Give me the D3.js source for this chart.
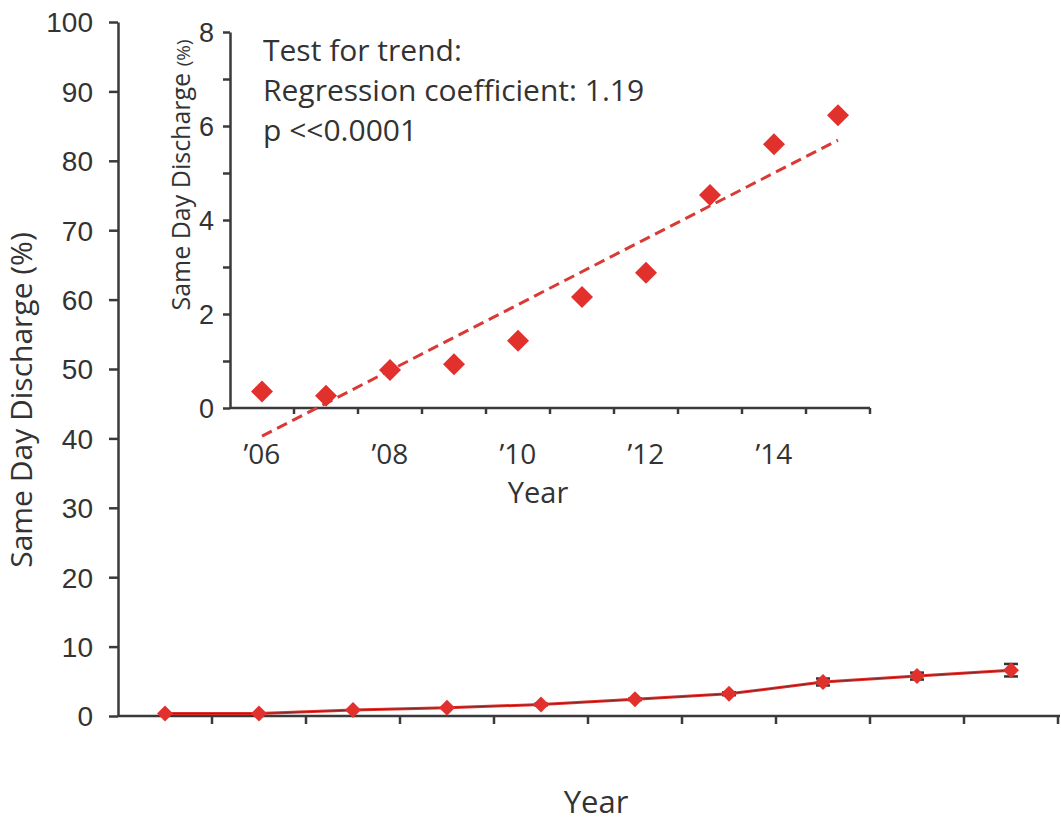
<!DOCTYPE html>
<html>
<head>
<meta charset="utf-8">
<script src="https://cdn.jsdelivr.net/npm/d3@7"></script>
<style>
  body { margin: 0; background: #fff; }
  svg { display: block; font-family: "Open Sans", "Noto Sans", sans-serif; }
  .axis path, .axis line { stroke: #3a3a3a; stroke-width: 2.5; }
  .axis text { fill: #333; }
</style>
</head>
<body>
<svg id="chart" width="1061" height="823"></svg>
<script>
// years shown on both panels
var years = [2006, 2007, 2008, 2009, 2010, 2011, 2012, 2013, 2014, 2015]

// main panel
var mainValues = [0.35, 0.35, 0.85, 1.2, 1.65, 2.4, 3.2, 4.9, 5.75, 6.6]
var mainErrors = [0, 0, 0, 0, 0.1, 0.1, 0.2, 0.5, 0.5, 0.9]
var mainYTicks = [0, 10, 20, 30, 40, 50, 60, 70, 80, 90, 100]

// inset panel
var insetValues = [0.35, 0.26, 0.81, 0.93, 1.43, 2.36, 2.88, 4.53, 5.61, 6.23]
var trendYears = [2006, 2015]
var trendValues = [-0.6, 5.7]
var insetYTicks = [0, 1, 2, 3, 4, 5, 6, 7, 8]
var insetXLabels = {2006: "\u201906", 2008: "\u201908", 2010: "\u201910", 2012: "\u201912", 2014: "\u201914"}
var trendText = ["Test for trend:", "Regression coefficient: 1.19", "p <<0.0001"]

var red = "#e2312c"
var svg = d3.select("#chart")

//<----------------------------- MAIN PANEL ----------------------------->
var x = d3.scaleBand().domain(years).range([118, 1058]).padding(0)
var y = d3.scaleLinear().domain([0, 100]).range([716, 22])

// x axis: ticks sit on band edges, no labels
var xEdges = years.map(function (d) { return x(d) }).concat([x.range()[1]])
var xAxis = svg.append("g").attr("class", "axis")
xAxis.append("line")
    .attr("x1", x.range()[0]).attr("x2", x.range()[1] + 2)
    .attr("y1", y(0)).attr("y2", y(0))
xAxis.selectAll("line.tick").data(xEdges.slice(1)).enter().append("line")
    .attr("class", "tick")
    .attr("x1", function (d) { return d }).attr("x2", function (d) { return d })
    .attr("y1", y(0)).attr("y2", y(0) + 8)

svg.append("g").attr("class", "axis")
    .attr("transform", "translate(118,0)")
    .call(d3.axisLeft(y).tickValues(mainYTicks).tickSize(9).tickSizeOuter(0).tickPadding(16))
    .call(function (g) {
        g.selectAll("text").style("font-size", "28px").attr("dy", "0.35em")
    })

svg.append("text")
    .attr("transform", "translate(32,400) rotate(-90)")
    .attr("text-anchor", "middle")
    .style("font-size", "30px").style("fill", "#333")
    .text("Same Day Discharge (%)")

svg.append("text")
    .attr("x", 596).attr("y", 813)
    .attr("text-anchor", "middle")
    .style("font-size", "31px").style("fill", "#333")
    .text("Year")

var cx = function (d) { return x(d) + x.bandwidth() / 2 }
var mainLine = d3.line()
    .x(function (d, i) { return cx(years[i]) })
    .y(function (d) { return y(d) })

svg.append("path").datum(mainValues)
    .attr("d", mainLine).attr("fill", "none")
    .attr("stroke", red).attr("stroke-width", 3)
svg.append("path").datum(mainValues)
    .attr("d", mainLine).attr("fill", "none")
    .attr("stroke", "#8a2020").attr("stroke-width", 1)

// error bars
var eb = svg.append("g")
years.forEach(function (yr, i) {
    if (!mainErrors[i]) return
    var lo = y(mainValues[i] - mainErrors[i]), hi = y(mainValues[i] + mainErrors[i])
    eb.append("line").attr("x1", cx(yr)).attr("x2", cx(yr)).attr("y1", lo).attr("y2", hi)
        .attr("stroke", "#333").attr("stroke-width", 2)
    ;[lo, hi].forEach(function (v) {
        eb.append("line").attr("x1", cx(yr) - 7).attr("x2", cx(yr) + 7).attr("y1", v).attr("y2", v)
            .attr("stroke", "#333").attr("stroke-width", 2.5)
    })
})

var diamond = function (r) { return "M0," + (-r) + "L" + r + ",0L0," + r + "L" + (-r) + ",0Z" }
svg.append("g").selectAll("path").data(mainValues).enter().append("path")
    .attr("transform", function (d, i) { return "translate(" + cx(years[i]) + "," + y(d) + ")" })
    .attr("d", diamond(8))
    .attr("fill", red)

//<----------------------------- INSET PANEL ----------------------------->
var ix = d3.scaleBand().domain(years).range([230, 870]).padding(0)
var iy = d3.scaleLinear().domain([0, 8]).range([408, 32])
var icx = function (d) { return ix(d) + ix.bandwidth() / 2 }

var ixEdges = years.map(function (d) { return ix(d) }).concat([ix.range()[1]])
var ixAxis = svg.append("g").attr("class", "axis")
ixAxis.append("line")
    .attr("x1", ix.range()[0]).attr("x2", ix.range()[1])
    .attr("y1", iy(0)).attr("y2", iy(0))
ixAxis.selectAll("line.tick").data(ixEdges.slice(1)).enter().append("line")
    .attr("class", "tick")
    .attr("x1", function (d) { return d }).attr("x2", function (d) { return d })
    .attr("y1", iy(0)).attr("y2", iy(0) + 6)
ixAxis.selectAll("text").data(years.filter(function (d) { return insetXLabels[d] })).enter().append("text")
    .attr("x", function (d) { return icx(d) }).attr("y", 464)
    .attr("text-anchor", "middle")
    .style("font-size", "28px")
    .text(function (d) { return insetXLabels[d] })

svg.append("g").attr("class", "axis")
    .attr("transform", "translate(230,0)")
    .call(d3.axisLeft(iy).tickValues(insetYTicks).tickSize(7).tickSizeOuter(0).tickPadding(9)
        .tickFormat(function (d) { return d % 2 === 0 ? d : "" }))
    .call(function (g) {
        g.selectAll("text").style("font-size", "27px").attr("dy", "0.35em")
    })

var iyTitle = svg.append("text")
    .attr("transform", "translate(190,175) rotate(-90)")
    .attr("text-anchor", "middle")
    .style("fill", "#333")
iyTitle.append("tspan").style("font-size", "25px").text("Same Day Discharge ")
iyTitle.append("tspan").style("font-size", "19px").text("(%)")

svg.append("text")
    .attr("x", 538).attr("y", 503)
    .attr("text-anchor", "middle")
    .style("font-size", "29px").style("fill", "#333")
    .text("Year")

svg.append("g").selectAll("text").data(trendText).enter().append("text")
    .attr("x", 263).attr("y", function (d, i) { return 61 + i * 40 })
    .style("font-size", "30px").style("fill", "#333")
    .text(function (d) { return d })

svg.append("path").datum(trendValues)
    .attr("d", d3.line()
        .x(function (d, i) { return icx(trendYears[i]) })
        .y(function (d) { return iy(d) }))
    .attr("fill", "none")
    .attr("stroke", "#d93a35").attr("stroke-width", 3)
    .attr("stroke-dasharray", "11,6")

svg.append("g").selectAll("path").data(insetValues).enter().append("path")
    .attr("transform", function (d, i) { return "translate(" + icx(years[i]) + "," + iy(d) + ")" })
    .attr("d", diamond(11))
    .attr("fill", red)
</script>
</body>
</html>
